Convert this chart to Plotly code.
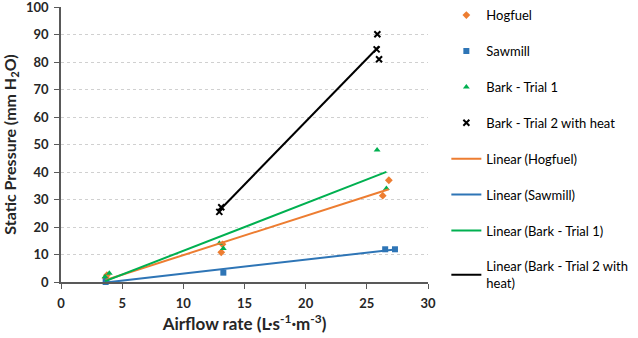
import numpy as np
import plotly.graph_objects as go

# ---- data ----
hog_x = [3.65, 3.75, 13.2, 13.1, 26.3, 26.8]
hog_y = [1.5, 2.5, 13.7, 10.8, 31.4, 37.0]
saw_x = [3.65, 3.7, 13.27, 26.5, 27.3]
saw_y = [0.0, 0.4, 3.4, 11.9, 11.9]
bark1_x = [3.6, 3.95, 12.95, 13.27, 25.84, 26.6]
bark1_y = [1.9, 3.2, 14.1, 12.2, 48.0, 34.0]
bark2_x = [12.94, 13.1, 25.86, 25.8, 26.0]
bark2_y = [25.5, 27.2, 90.1, 84.6, 81.0]

series_names = ["Hogfuel", "Sawmill", "Bark - Trial 1", "Bark - Trial 2 with heat"]
trend_names = ["Linear (Hogfuel)", "Linear (Sawmill)", "Linear (Bark - Trial 1)",
               "Linear (Bark - Trial 2 with<br>heat)"]
x_ticks = [0, 5, 10, 15, 20, 25, 30]
y_ticks = [0, 10, 20, 30, 40, 50, 60, 70, 80, 90, 100]

colors = ["#ED7D31", "#2E75B6", "#00B050", "#000000"]
symbols = ["diamond", "square", "triangle-up", "x-thin"]
datasets = [(hog_x, hog_y), (saw_x, saw_y), (bark1_x, bark1_y), (bark2_x, bark2_y)]

fig = go.Figure()
for i, (xs, ys) in enumerate(datasets):
    mk = dict(color=colors[i], size=6, symbol=symbols[i])
    if symbols[i] == "x-thin":
        mk = dict(color=colors[i], size=6, symbol="x-thin", line=dict(color=colors[i], width=2))
    fig.add_trace(go.Scatter(x=xs, y=ys, mode="markers", name=series_names[i],
                             marker=mk, legendgroup=f"g{i}", cliponaxis=False))

for i, (xs, ys) in enumerate(datasets):
    a, b = np.polyfit(xs, ys, 1)
    lx = [min(xs), max(xs)]
    ly = [a * v + b for v in lx]
    fig.add_trace(go.Scatter(x=lx, y=ly, mode="lines", name=trend_names[i],
                             line=dict(color=colors[i], width=2), legendgroup=f"t{i}"))

font_family = "Lato, Open Sans, Liberation Sans, Arial, sans-serif"
fig.update_layout(
    width=638, height=338,
    margin=dict(l=61, r=210, t=7, b=56, autoexpand=False),
    paper_bgcolor="white", plot_bgcolor="white",
    font=dict(family=font_family, size=13, color="#000"),
    showlegend=True,
    legend=dict(x=1.05, y=1.025, xanchor="left", yanchor="top",
                tracegroupgap=16, font=dict(size=13, color="#000"),
                itemwidth=30, bgcolor="rgba(0,0,0,0)", maxheight=1),
    xaxis=dict(range=[0, 30], tickvals=x_ticks, showgrid=False, zeroline=False,
               showline=True, linecolor="#595959", linewidth=1.5,
               ticks="outside", ticklen=5, tickcolor="#595959",
               ticklabeloverflow="allow", ticklabelstandoff=4,
               tickfont=dict(size=13, family=font_family, weight="bold", color="#262626"),
               title=dict(text="Airflow rate (L·s<sup>-1</sup>·m<sup>-3</sup>)",
                          font=dict(size=17, weight="bold", color="#262626"), standoff=6)),
    yaxis=dict(range=[0, 100], tickvals=y_ticks, showgrid=True,
               gridcolor="#D0D0D0", griddash="dot", gridwidth=1, zeroline=False,
               showline=True, linecolor="#595959", linewidth=1.5,
               ticks="outside", ticklen=5, tickcolor="#595959",
               ticklabeloverflow="allow", ticklabelstandoff=3,
               tickfont=dict(size=13, family=font_family, weight="bold", color="#262626"),
               title=dict(text="Static Pressure (mm H<sub>2</sub>O)",
                          font=dict(size=16, weight="bold", color="#262626"), standoff=6)),
)

fig.write_html("out.html", config={"displayModeBar": False},
               post_script="document.body.style.margin='0';")
